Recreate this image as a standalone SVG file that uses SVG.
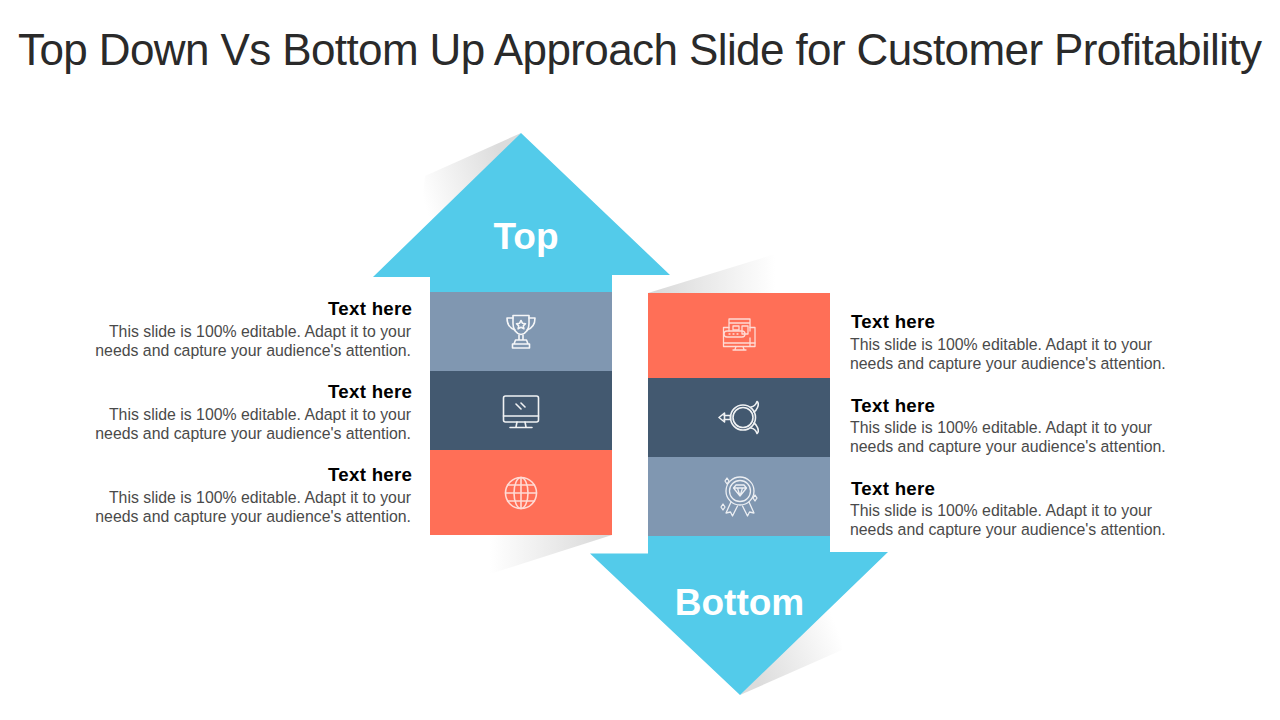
<svg xmlns="http://www.w3.org/2000/svg" width="1280" height="720" viewBox="0 0 1280 720">
<style>
text{font-family:"Liberation Sans",Arial,sans-serif}
.title{font-size:44px;fill:#2a2a2a}
.head{font-size:18.7px;font-weight:700;fill:#000}
.body{font-size:15.85px;fill:#4a4a4a}
.end{text-anchor:end}
.big{font-size:37px;font-weight:700;fill:#fff;text-anchor:middle}
.ico{fill:none;stroke:#fff;stroke-width:1.6;stroke-linecap:round;stroke-linejoin:round;opacity:.92}
.ico2{fill:none;stroke:#fff;stroke-width:1.3;stroke-linecap:round;stroke-linejoin:round;opacity:.85}
.arrow{fill:#53cbea}
.slate{fill:#8097b1}
.navy{fill:#435970}
.coral{fill:#ff6f57}
</style>
<defs>
<linearGradient id="g1" gradientUnits="userSpaceOnUse" x1="505" y1="170" x2="422" y2="195"><stop offset="0" stop-color="#dcdcdc"/><stop offset="1" stop-color="#fff"/></linearGradient>
<linearGradient id="g2" gradientUnits="userSpaceOnUse" x1="650" y1="0" x2="775" y2="0"><stop offset="0" stop-color="#d8d8d8"/><stop offset="1" stop-color="#fff"/></linearGradient>
<linearGradient id="g3" gradientUnits="userSpaceOnUse" x1="610" y1="0" x2="490" y2="0"><stop offset="0" stop-color="#d8d8d8"/><stop offset="1" stop-color="#fff"/></linearGradient>
<linearGradient id="g4" gradientUnits="userSpaceOnUse" x1="755" y1="675" x2="842" y2="640"><stop offset="0" stop-color="#dcdcdc"/><stop offset="1" stop-color="#fff"/></linearGradient>
</defs>
<rect width="1280" height="720" fill="#fff"/>
<text class="title" x="18" y="65" textLength="1244" lengthAdjust="spacing">Top Down Vs Bottom Up Approach Slide for Customer Profitability</text>

<g id="shadows">
<polygon points="521,133 425,176 418,245" fill="url(#g1)"/>
<polygon points="648,293 775,254 775,293" fill="url(#g2)"/>
<polygon points="612,535 490,574 490,535" fill="url(#g3)"/>
<polygon points="740,695 842,650 845,590" fill="url(#g4)"/>
</g>

<g id="arrow-top">
<polygon class="arrow" points="521,133 670,275 612,275 612,292 430,292 430,277 373,277"/>
<text class="big" x="526" y="248.500">Top</text>
</g>
<g id="arrow-bottom">
<polygon class="arrow" points="648,536 830,536 830,552 888,552 740,695 590,553.500 648,553.500"/>
<text class="big" x="739.500" y="614.500">Bottom</text>
</g>

<g id="node-left-1">
<rect class="slate" x="430" y="292" width="182" height="79"/>
<g class="ico">
<path d="M513 315.500h16v8c0 6-3 10-8 11c-5-1-8-5-8-11z"/>
<path d="M513 318h-6c0 6 2 10 8 12M529 318h6c0 6-2 10-8 12"/>
<path d="M519 335v5h4v-5M515.500 340h11l1.500 4h-14zM512.500 344h17v4h-17z"/>
<path d="M521 320.500l1.500 2.800 3 .4-2.200 2.100.6 3-2.900-1.500-2.900 1.500.6-3-2.200-2.100 3-.4z"/>
</g>
<text class="head end" x="412" y="314.500" textLength="84">Text here</text>
<text class="body end" x="411" y="337">This slide is 100% editable. Adapt it to your</text>
<text class="body end" x="411" y="356">needs and capture your audience's attention.</text>
</g>
<g id="node-left-2">
<rect class="navy" x="430" y="371" width="182" height="79"/>
<g class="ico">
<rect x="503.500" y="396" width="35" height="26" rx="2"/>
<path d="M503.500 416h35M517 422l-1 5M525 422l1 5M510 427.500h22M516 404l5 5M521 403l4 4"/>
</g>
<text class="head end" x="412" y="397.500" textLength="84">Text here</text>
<text class="body end" x="411" y="420">This slide is 100% editable. Adapt it to your</text>
<text class="body end" x="411" y="439">needs and capture your audience's attention.</text>
</g>
<g id="node-left-3">
<rect class="coral" x="430" y="450" width="182" height="85"/>
<g class="ico" style="opacity:.75">
<circle cx="521" cy="493" r="15.500"/>
<ellipse cx="521" cy="493" rx="7" ry="15.500"/>
<path d="M521 477.500v31M505.500 493h31M507.500 485h27M507.500 501h27"/>
</g>
<text class="head end" x="412" y="480.500" textLength="84">Text here</text>
<text class="body end" x="411" y="503">This slide is 100% editable. Adapt it to your</text>
<text class="body end" x="411" y="522">needs and capture your audience's attention.</text>
</g>

<g id="node-right-1">
<rect class="coral" x="648" y="293" width="182" height="85"/>
<g class="ico2" style="opacity:.75">
<path d="M729 331v-12h21v12M729 323h21M750 338v8"/>
<path d="M729 327.500h-5.500v19h31.500v-19h-5"/>
<path d="M723.500 343h31.500M736 346.500l-1 3M743 346.500l1 3M733 350h13"/>
<path d="M733 326h6v4h-6zM742 326h6v8h-6z"/>
<rect x="724" y="331" width="21" height="6" rx="3"/>
<path d="M729 334h1M733 334h1M737 334h1"/>
</g>
<text class="head" x="851" y="327.500" textLength="84">Text here</text>
<text class="body" x="850" y="350">This slide is 100% editable. Adapt it to your</text>
<text class="body" x="850" y="369">needs and capture your audience's attention.</text>
</g>
<g id="node-right-2">
<rect class="navy" x="648" y="378" width="182" height="79"/>
<g class="ico">
<circle cx="743" cy="417.500" r="12.500"/>
<circle cx="743" cy="417.500" r="10"/>
<path d="M724 415.500h6.500M724 419.500h6.500M730.500 415.500v4M724.500 413l-5.500 4.500 5.500 4.500z"/>
<path d="M751 407c3-.5 5-2.500 6-5.500c1.500 1 1.500 3.500 .5 6c-.8 2-2 3.500-3.500 4.500"/>
<path d="M751 428c3 .5 5 2.500 6 5.500c1.500-1 1.500-3.500 .5-6c-.8-2-2-3.500-3.500-4.500"/>
</g>
<text class="head" x="851" y="411.500" textLength="84">Text here</text>
<text class="body" x="850" y="433">This slide is 100% editable. Adapt it to your</text>
<text class="body" x="850" y="452">needs and capture your audience's attention.</text>
</g>
<g id="node-right-3">
<rect class="slate" x="648" y="457" width="182" height="79"/>
<g class="ico2">
<circle cx="740" cy="491" r="14"/>
<circle cx="740" cy="491" r="10.500"/>
<path d="M733.500 488l2.500-3h8l2.500 3-6.500 8zM733.500 488h13M737.500 488l2.500 8 2.500-8"/>
<path d="M731 502l-5 11 4.500-1 2 4 5-10M749 502l5 11-4.500-1-2 4-5-10"/>
<path d="M727 478l2 3-2 3-2-3zM723 504l2 3-2 3-2-3zM755 495l2 3-2 3-2-3z"/>
</g>
<text class="head" x="851" y="494.500" textLength="84">Text here</text>
<text class="body" x="850" y="516">This slide is 100% editable. Adapt it to your</text>
<text class="body" x="850" y="535">needs and capture your audience's attention.</text>
</g>
</svg>
